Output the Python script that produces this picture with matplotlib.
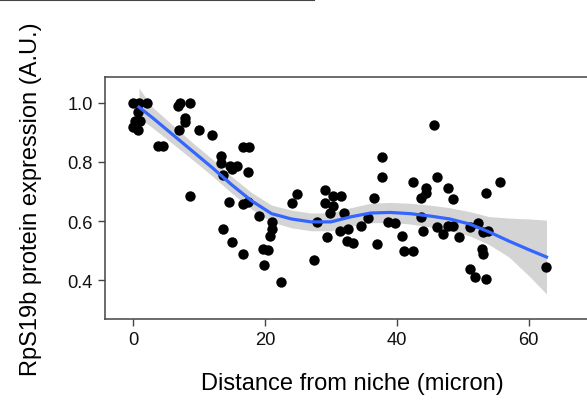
import matplotlib
matplotlib.use("Agg")
import matplotlib.pyplot as plt
from matplotlib.lines import Line2D

plt.rcParams['font.family'] = ['Liberation Sans', 'DejaVu Sans']

# scatter points: distance (micron), RpS19b expression (A.U.)
dist = [0.0, 0.9, 2.1, 0.8, 1.1, 0.3, 0.0, 0.8, 3.8, 4.5,
        7.1, 8.6, 6.8, 7.9, 7.9, 7.0, 10.0, 12.0, 8.6, 16.7,
        17.6, 13.3, 13.3, 14.7, 15.8, 15.0, 17.4, 13.6, 14.5, 16.7,
        17.4, 19.1, 21.1, 21.1, 20.8, 13.6, 15.0, 16.7, 19.7, 20.5,
        19.8, 22.4, 24.1, 24.8, 27.9, 27.4, 29.1, 29.1, 30.3, 31.5,
        30.3, 29.8, 32.0, 29.4, 31.4, 32.6, 32.4, 33.3, 34.5, 35.6,
        36.5, 37.7, 37.7, 37.0, 38.6, 39.8, 40.8, 41.1, 42.4, 42.4,
        45.6, 46.1, 44.4, 44.5, 43.6, 43.6, 43.9, 46.1, 47.0, 47.7,
        48.5, 47.7, 48.5, 49.4, 51.1, 52.3, 53.0, 53.9, 53.5, 55.6,
        52.9, 53.0, 51.1, 51.8, 53.5, 62.7]
expr = [1.00, 1.00, 1.00, 0.97, 0.94, 0.94, 0.92, 0.91, 0.855, 0.855,
        1.00, 1.00, 0.99, 0.95, 0.935, 0.91, 0.91, 0.89, 0.685, 0.85,
        0.85, 0.82, 0.797, 0.786, 0.786, 0.776, 0.766, 0.756, 0.664, 0.658,
        0.664, 0.617, 0.597, 0.573, 0.55, 0.573, 0.529, 0.488, 0.505, 0.502,
        0.451, 0.393, 0.661, 0.691, 0.597, 0.468, 0.705, 0.661, 0.685, 0.685,
        0.651, 0.627, 0.627, 0.546, 0.566, 0.573, 0.532, 0.525, 0.583, 0.61,
        0.678, 0.817, 0.749, 0.522, 0.597, 0.593, 0.549, 0.498, 0.498, 0.732,
        0.925, 0.749, 0.712, 0.695, 0.678, 0.614, 0.566, 0.58, 0.556, 0.583,
        0.583, 0.712, 0.675, 0.546, 0.58, 0.593, 0.563, 0.566, 0.695, 0.732,
        0.505, 0.488, 0.437, 0.41, 0.403, 0.444]

# smoothed fit and its confidence band
fit_x = [0.9, 3, 6, 9, 12, 15, 18, 21, 24, 27, 30, 33, 36, 39, 42, 45, 48,
         51, 54, 57, 60, 62.7]
fit_y = [0.986, 0.949, 0.893, 0.837, 0.781, 0.722, 0.668, 0.625, 0.607,
         0.597, 0.597, 0.614, 0.627, 0.629, 0.625, 0.617, 0.607, 0.590,
         0.563, 0.532, 0.503, 0.478]
band_lo = [0.95, 0.915, 0.862, 0.808, 0.753, 0.694, 0.64, 0.597, 0.577,
           0.567, 0.567, 0.583, 0.594, 0.595, 0.59, 0.58, 0.567, 0.55,
           0.52, 0.478, 0.415, 0.353]
band_hi = [1.05, 0.985, 0.925, 0.866, 0.81, 0.75, 0.696, 0.654, 0.637,
           0.627, 0.628, 0.645, 0.66, 0.663, 0.66, 0.654, 0.645, 0.632,
           0.615, 0.61, 0.607, 0.603]

fig = plt.figure(figsize=(5.87, 4.02), dpi=100)
ax = fig.add_axes([0.179, 0.204, 0.843, 0.602])

ax.fill_between(fit_x, band_lo, band_hi, color='#d4d4d4', linewidth=0, zorder=1)
ax.scatter(dist, expr, s=56, color='black', linewidths=0, zorder=2)
ax.plot(fit_x, fit_y, color='#3366FF', linewidth=2.3, zorder=3)

ax.set_xlim(-4.24, 70.8)
ax.set_ylim(0.268, 1.088)
ax.set_xticks([0, 20, 40, 60])
ax.set_yticks([0.4, 0.6, 0.8, 1.0])
ax.set_yticklabels(['0.4', '0.6', '0.8', '1.0'])

for s in ax.spines.values():
    s.set_color('#444444')
    s.set_linewidth(1.1)
ax.tick_params(direction='out', length=5, width=1, color='#444444',
               labelsize=13.2, labelcolor='#111111', pad=4)

ax.set_xlabel('Distance from niche (micron)', fontsize=17, labelpad=17)
ax.set_ylabel('RpS19b protein expression (A.U.)', fontsize=17, labelpad=18)

fig.add_artist(Line2D([0, 314 / 587], [0.997, 0.997], transform=fig.transFigure,
                      color='#444444', linewidth=1.5))

fig.savefig('out.png', dpi=100)
